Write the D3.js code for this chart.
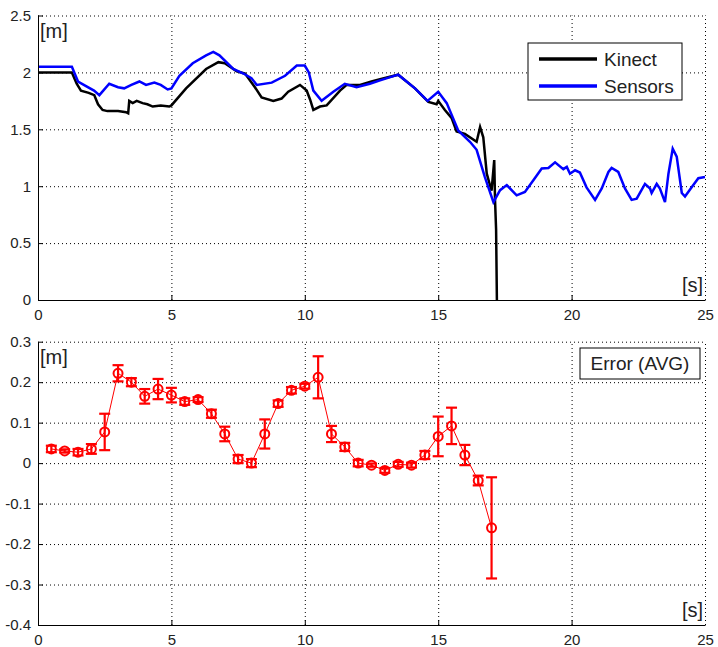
<!DOCTYPE html>
<html>
<head>
<meta charset="utf-8">
<script src="https://cdn.jsdelivr.net/npm/d3@7"></script>
<style>
  body { margin: 0; background: #fff; }
  svg { display: block; }
  text { font-family: "Liberation Sans", Arial, sans-serif; }
</style>
</head>
<body>
<div id="chart"></div>
<script>
// distance over time
const kinectT = [0, 1.27, 1.45, 1.61, 1.9, 2.11, 2.25, 2.42, 2.6, 3.0, 3.3, 3.38, 3.42, 3.55, 3.7, 3.92, 4.1, 4.3, 4.6, 4.92, 5.0,
  5.55, 6.3, 6.76, 7.0, 7.45, 7.76, 8.13, 8.38, 8.82, 9.13, 9.38, 9.82, 10.07, 10.2, 10.32, 10.57, 10.82, 11.32, 11.57,
  12.07, 12.5, 12.82, 13.5, 14.13, 14.63, 14.94, 15.0, 15.25, 15.5, 15.69, 16.0, 16.44, 16.57, 16.69, 16.82, 17.0, 17.1, 17.13, 17.17, 17.2];
const kinectV = [2.0, 2.0, 1.9, 1.84, 1.82, 1.8, 1.72, 1.67, 1.66, 1.66, 1.65, 1.64, 1.75, 1.73, 1.75, 1.73, 1.72, 1.7, 1.71, 1.7, 1.71,
  1.86, 2.03, 2.09, 2.08, 2.01, 1.99, 1.87, 1.78, 1.75, 1.77, 1.83, 1.89, 1.84, 1.76, 1.67, 1.7, 1.71, 1.84, 1.89,
  1.89, 1.92, 1.94, 1.98, 1.86, 1.74, 1.72, 1.75, 1.67, 1.6, 1.48, 1.46, 1.39, 1.52, 1.43, 1.11, 0.96, 1.23, 0.88, 0.62, 0.0];

const sensorsT = [0, 1.27, 1.5, 1.8, 2.1, 2.3, 2.67, 3.0, 3.23, 3.5, 3.8, 4.05, 4.36, 4.6, 4.86, 5.0, 5.3, 5.8, 6.3, 6.57, 6.8,
  7.32, 7.7, 8.0, 8.2, 8.76, 9.26, 9.7, 10.0, 10.15, 10.32, 10.63, 11.07, 11.5, 11.94, 12.44, 12.82, 13.5, 14.13, 14.6,
  15.0, 15.32, 15.75, 16.19, 16.44, 16.75, 17.07, 17.32, 17.57, 17.94, 18.25, 18.56, 18.88, 19.13, 19.38, 19.69, 19.82,
  19.94, 20.13, 20.31, 20.56, 20.88, 21.13, 21.38, 21.5, 21.75, 22.0, 22.25, 22.44, 22.75, 22.94, 23.0, 23.19, 23.31,
  23.5, 23.63, 23.79, 23.94, 24.13, 24.25, 24.5, 24.75, 25.0];
const sensorsV = [2.05, 2.05, 1.92, 1.88, 1.84, 1.8, 1.9, 1.87, 1.86, 1.89, 1.92, 1.89, 1.91, 1.89, 1.85, 1.86, 1.97, 2.08, 2.15, 2.18, 2.15,
  2.03, 1.99, 1.95, 1.89, 1.91, 1.97, 2.06, 2.06, 2.0, 1.84, 1.75, 1.83, 1.9, 1.87, 1.9, 1.93, 1.98, 1.86, 1.75,
  1.83, 1.73, 1.49, 1.39, 1.32, 1.08, 0.86, 0.965, 1.01, 0.92, 0.95, 1.05, 1.155, 1.16, 1.21, 1.15, 1.17,
  1.11, 1.14, 1.12, 0.99, 0.88, 0.98, 1.125, 1.16, 1.125, 0.98, 0.88, 0.89, 1.02, 0.98, 0.94, 1.02, 0.98,
  0.86, 1.11, 1.33, 1.26, 0.94, 0.91, 0.99, 1.07, 1.08];

// average error with spread
const errorT = [0.5, 1, 1.5, 2, 2.5, 3, 3.5, 4, 4.5, 5, 5.5, 6, 6.5, 7, 7.5, 8, 8.5, 9, 9.5, 10, 10.5, 11, 11.5, 12,
  12.5, 13, 13.5, 14, 14.5, 15, 15.5, 16, 16.5, 17];
const errorMean = [0.035, 0.03, 0.027, 0.035, 0.077, 0.222, 0.2, 0.165, 0.183, 0.168, 0.152, 0.157, 0.122, 0.072, 0.01, 0.0,
  0.072, 0.147, 0.18, 0.19, 0.212, 0.072, 0.04, 0.0, -0.005, -0.018, -0.003, -0.005, 0.02, 0.066, 0.092, 0.02, -0.043, -0.16];
const errorDev = [0.008, 0.004, 0.008, 0.012, 0.045, 0.02, 0.01, 0.018, 0.025, 0.018, 0.008, 0.006, 0.01, 0.018, 0.01, 0.01,
  0.036, 0.008, 0.008, 0.006, 0.052, 0.02, 0.01, 0.008, 0.004, 0.006, 0.006, 0.006, 0.01, 0.049, 0.045, 0.025, 0.012, 0.125];

// tick labels
const xTicks = [0, 5, 10, 15, 20, 25];
const xTickLabels = ["0", "5", "10", "15", "20", "25"];
const topYTicks = [0, 0.5, 1, 1.5, 2, 2.5];
const topYTickLabels = ["0", "0.5", "1", "1.5", "2", "2.5"];
const bottomYTicks = [-0.4, -0.3, -0.2, -0.1, 0, 0.1, 0.2, 0.3];
const bottomYTickLabels = ["-0.4", "-0.3", "-0.2", "-0.1", "0", "0.1", "0.2", "0.3"];
const seriesNames = ["Kinect", "Sensors"];

const W = 718, H = 647;
const svg = d3.select("#chart").append("svg").attr("width", W).attr("height", H);

// one matlab-like panel with grid, inner ticks and unit labels
function drawPanel(top, bottom, yTicks, yLabels) {
  const left = 38, right = 705;
  const x = d3.scaleLinear().domain([0, 25]).range([left, right]);
  const y = d3.scaleLinear().domain([yTicks[0], yTicks[yTicks.length - 1]]).range([bottom, top]);
  const g = svg.append("g");

  // dotted grid
  g.append("g").attr("transform", `translate(0,${bottom})`)
    .call(d3.axisBottom(x).tickValues(xTicks).tickSize(-(bottom - top)).tickFormat(""))
    .call(s => s.select(".domain").remove())
    .selectAll("line").attr("stroke", "#000").attr("stroke-dasharray", "1,3");
  g.append("g").attr("transform", `translate(${left},0)`)
    .call(d3.axisLeft(y).tickValues(yTicks).tickSize(-(right - left)).tickFormat(""))
    .call(s => s.select(".domain").remove())
    .selectAll("line").attr("stroke", "#000").attr("stroke-dasharray", "1,3");

  const plot = g.append("g");

  // axes
  const xa = g.append("g").attr("transform", `translate(0,${bottom})`)
    .call(d3.axisBottom(x).tickValues(xTicks).tickSizeInner(-5).tickSizeOuter(0).tickPadding(9)
      .tickFormat((d, i) => xTickLabels[i]));
  const ya = g.append("g").attr("transform", `translate(${left},0)`)
    .call(d3.axisLeft(y).tickValues(yTicks).tickSizeInner(-5).tickSizeOuter(0).tickPadding(7)
      .tickFormat((d, i) => yLabels[i]));
  [xa, ya].forEach(a => {
    a.select(".domain").attr("stroke", "#000");
    a.selectAll("line").attr("stroke", "#000");
    a.selectAll("text").attr("font-size", 15).attr("fill", "#222")
      .attr("font-family", '"Liberation Sans", Arial, sans-serif');
  });
  // hide the tick marks that would sit on the far edges
  xa.selectAll(".tick").filter(d => d === 0 || d === 25).select("line").remove();
  ya.selectAll(".tick").filter((d, i) => i === 0).select("line").remove();

  g.append("text").attr("x", left + 2).attr("y", top + 22)
    .attr("font-size", 20).attr("fill", "#222").text("[m]");
  g.append("text").attr("x", right - 2).attr("y", bottom - 8).attr("text-anchor", "end")
    .attr("font-size", 20).attr("fill", "#222").text("[s]");

  return { x, y, plot, g };
}

// ---- top panel: distance
const p1 = drawPanel(15.5, 300, topYTicks, topYTickLabels);
const line1 = d3.line().x(d => p1.x(d[0])).y(d => p1.y(d[1]));
p1.plot.append("path").datum(d3.zip(kinectT, kinectV))
  .attr("d", line1).attr("fill", "none").attr("stroke", "#000").attr("stroke-width", 2.5);
p1.plot.append("path").datum(d3.zip(sensorsT, sensorsV))
  .attr("d", line1).attr("fill", "none").attr("stroke", "#0000ff").attr("stroke-width", 2.5);

// legend
const lg = svg.append("g").attr("transform", "translate(528,43)");
lg.append("rect").attr("width", 154).attr("height", 57).attr("fill", "#fff").attr("stroke", "#000");
const legendColors = ["#000", "#0000ff"];
seriesNames.forEach((name, i) => {
  const yy = 16 + i * 27;
  lg.append("line").attr("x1", 11).attr("x2", 69).attr("y1", yy).attr("y2", yy)
    .attr("stroke", legendColors[i]).attr("stroke-width", 3.5);
  lg.append("text").attr("x", 76).attr("y", yy + 7).attr("font-size", 19).attr("fill", "#222").text(name);
});

// ---- bottom panel: error
const p2 = drawPanel(341.7, 625, bottomYTicks, bottomYTickLabels);
const errData = errorT.map((t, i) => ({ t, m: errorMean[i], s: errorDev[i] }));
const red = "#ff0000";
p2.plot.append("path").datum(errData)
  .attr("d", d3.line().x(d => p2.x(d.t)).y(d => p2.y(d.m)))
  .attr("fill", "none").attr("stroke", red).attr("stroke-width", 1);
const bars = p2.plot.selectAll("g.bar").data(errData).enter().append("g").attr("class", "bar");
bars.append("line")
  .attr("x1", d => p2.x(d.t)).attr("x2", d => p2.x(d.t))
  .attr("y1", d => p2.y(d.m - d.s)).attr("y2", d => p2.y(d.m + d.s))
  .attr("stroke", red).attr("stroke-width", 2.2);
[-1, 1].forEach(k => {
  bars.append("line")
    .attr("x1", d => p2.x(d.t) - 5.5).attr("x2", d => p2.x(d.t) + 5.5)
    .attr("y1", d => p2.y(d.m + k * d.s)).attr("y2", d => p2.y(d.m + k * d.s))
    .attr("stroke", red).attr("stroke-width", 2.2);
});
bars.append("circle")
  .attr("cx", d => p2.x(d.t)).attr("cy", d => p2.y(d.m)).attr("r", 4.5)
  .attr("fill", "none").attr("stroke", red).attr("stroke-width", 2);

const lg2 = svg.append("g").attr("transform", "translate(580,348)");
lg2.append("rect").attr("width", 120).attr("height", 31).attr("fill", "#fff").attr("stroke", "#000");
lg2.append("text").attr("x", 60).attr("y", 22).attr("text-anchor", "middle")
  .attr("font-size", 19).attr("fill", "#222").text("Error (AVG)");
</script>
</body>
</html>
